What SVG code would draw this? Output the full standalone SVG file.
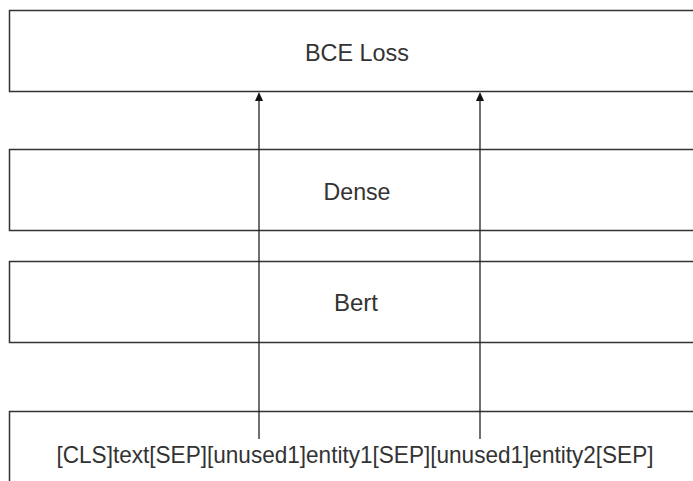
<svg xmlns="http://www.w3.org/2000/svg" width="693" height="481" viewBox="0 0 693 481">
<style>
.box{fill:#fff;stroke:#333;stroke-width:1.5}
.lbl{font-family:"Liberation Sans",Arial,sans-serif;font-size:24px;fill:#333;text-anchor:middle}
.conn{stroke:#222;stroke-width:1.3;fill:none}
.head{fill:#111}
</style>
<rect width="693" height="481" fill="#fff"/>
<g id="bce"><rect class="box" x="9.5" y="10.5" width="700" height="81"/><text class="lbl" x="357" y="61" textLength="104" lengthAdjust="spacingAndGlyphs">BCE Loss</text></g>
<g id="dense"><rect class="box" x="9.5" y="149.5" width="700" height="81"/><text class="lbl" x="357" y="200" textLength="67" lengthAdjust="spacingAndGlyphs">Dense</text></g>
<g id="bert"><rect class="box" x="9.5" y="261.5" width="700" height="81"/><text class="lbl" x="356" y="311" textLength="44" lengthAdjust="spacingAndGlyphs">Bert</text></g>
<g id="input"><rect class="box" x="9.5" y="411.5" width="700" height="100"/><text class="lbl" x="355" y="463" textLength="597" lengthAdjust="spacingAndGlyphs">[CLS]text[SEP][unused1]entity1[SEP][unused1]entity2[SEP]</text></g>
<g id="connectors">
<path class="conn" d="M259,439 V101"/>
<path class="head" d="M255,101 L263,101 L259,92 Z"/>
<path class="conn" d="M480,439 V101"/>
<path class="head" d="M476,101 L484,101 L480,92 Z"/>
</g>
</svg>
